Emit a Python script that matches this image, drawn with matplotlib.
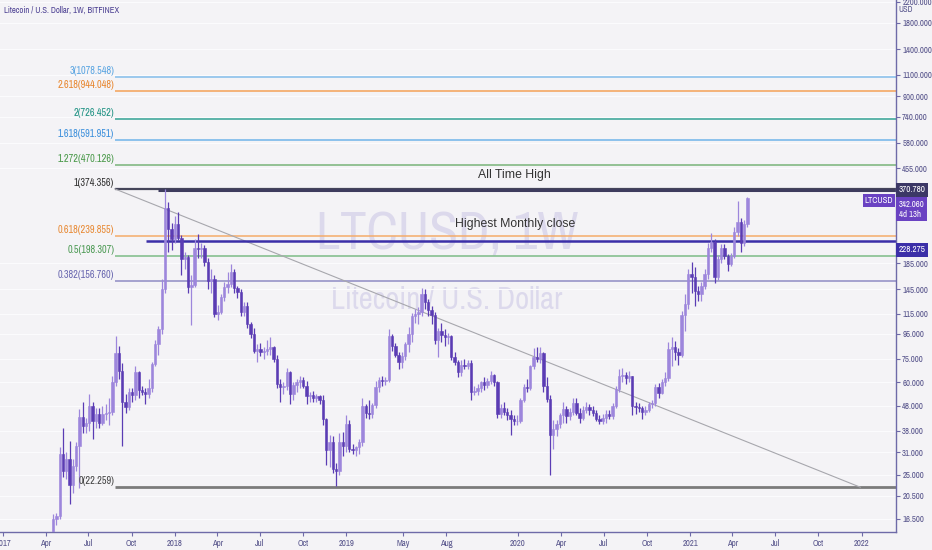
import numpy as np
import pandas as pd
import matplotlib
matplotlib.use("Agg")
import matplotlib.pyplot as plt
import matplotlib.dates as mdates

plt.rcParams['font.family'] = ['Archivo Narrow', 'DejaVu Sans']

# weekly LTCUSD candles (Bitfinex), first week starts 2017-04-17
first_week = "2017-04-17"
first_open = 13.0
highs = [17.2, 17.4, 32.5, 39, 31, 34.5, 29, 34, 46.7, 50, 43, 53.8, 50, 47, 47, 48, 49, 52, 64, 93,
         85, 72, 54, 57, 57, 70, 67, 58, 57, 62, 73, 90, 102, 160, 374, 330, 270, 290, 300, 242,
         205, 200, 165, 233, 245, 225, 220, 195, 175, 165, 125, 138, 155, 170, 183, 175, 150, 145, 128, 128,
         106, 100, 86, 87, 84, 90, 92, 85, 78, 62, 60, 69, 67, 60, 62, 64, 63, 61, 55, 55.5,
         54, 53, 53, 43, 36.5, 36, 28, 37, 37.5, 44, 42, 33.5, 33, 35, 52, 49, 51, 49.5, 61, 63,
         63.5, 63, 99, 95, 87, 80, 80, 88, 101, 116, 120, 122, 147, 145, 132, 124, 117, 100, 105, 99,
         96, 94, 80, 74, 74, 75, 74, 74, 58, 59, 61, 63, 62.5, 67, 65, 61, 49, 50, 47, 46,
         44, 44, 52, 59, 62, 71, 83, 84, 84, 80, 63, 53, 42, 42, 45, 50, 48, 47, 52, 52,
         47, 48, 50, 49, 48, 46, 44, 44.5, 46, 46, 49.5, 58, 68, 69, 66, 67, 64, 50, 49.5, 48,
         48, 50, 51, 59, 59.5, 62, 66, 88, 92, 89, 83, 118, 138, 176, 187, 178, 150, 155, 175, 225,
         247, 232, 200, 222, 222, 203, 204, 261, 335, 285, 280, 346]
lows = [12.5, 15.5, 16.5, 24.5, 24, 19, 21, 26, 22, 37, 37, 38, 35, 39, 39, 40, 42, 40, 44, 58,
        62, 33, 45, 46, 50, 51, 52, 53, 49, 52, 55, 70, 78, 95, 140, 205, 210, 225, 230, 165,
        176, 140, 103, 148, 195, 195, 180, 145, 140, 111, 108, 115, 130, 140, 148, 140, 133, 112, 112, 100,
        91, 79, 73, 77, 75, 78, 78, 73, 57, 50, 54, 56, 49, 51, 55, 57, 57, 49, 50, 50,
        50, 49, 40, 27.5, 27, 25.5, 22.6, 25, 30, 31, 31, 30.5, 30, 30.5, 33, 43, 42.5, 43, 47, 55,
        58, 58.5, 60, 81, 76, 68, 69, 74, 80, 88, 105, 104, 112, 120, 112, 104, 86, 76.5, 88, 85,
        86, 74, 71, 63, 64, 68, 68, 51, 53, 53, 55, 56, 57, 59, 58, 43, 43, 44, 42, 36.5,
        40, 40, 41, 50, 55, 56, 68, 73, 72, 55, 50, 24.9, 32, 36, 39, 41, 41, 42, 44, 44,
        41, 42, 45, 44, 43.5, 41.5, 40.5, 40.5, 41, 42.5, 42.5, 47, 55, 60, 59, 60, 44, 44.5, 45.5, 42.5,
        44, 45.5, 47, 48, 52, 53.5, 58, 61, 70, 74, 71, 76, 98, 120, 140, 123, 129, 130, 145, 160,
        205, 154, 158, 185, 192, 172, 180, 195, 240, 205, 218, 262]
closes = [16.4, 16.9, 30.6, 26, 29, 22.7, 27.3, 33, 43.4, 39.6, 41, 48, 41.5, 44.5, 41, 44.5, 45, 45.5, 60.5, 79,
          67, 50, 47.5, 55, 53, 66, 56, 55, 53.5, 57, 71.4, 86, 99, 145, 313, 255, 232, 268, 236, 192,
          196, 148, 151, 214, 211, 213, 188, 157, 160, 115, 117, 134, 148, 152, 171, 146, 141, 117, 124, 104,
          95, 81, 82, 80, 81, 82, 84, 75, 59, 57.5, 58, 66, 53.5, 58.5, 60, 61.5, 58, 52.5, 53, 52,
          52.5, 51, 42.5, 31.5, 34, 26.5, 26, 34, 33, 40.5, 32, 31.5, 32.5, 34, 48, 45, 44.5, 48.5, 57.5, 61.5,
          61, 61.5, 93, 85, 78, 73, 77, 86, 95, 112, 115, 117, 138, 128, 119, 114, 90, 98, 94, 92,
          93, 76.5, 73, 66, 71, 70, 72, 55, 55.5, 57, 60, 58.5, 61, 64.5, 60, 44.5, 47, 45.5, 44, 42.5,
          41.5, 41.5, 51, 57.5, 57, 70, 76, 75, 79.5, 58, 51.5, 36.5, 38.5, 40.5, 44, 46.5, 43.5, 45.5, 49.5, 45,
          43, 46, 47.5, 46, 45, 42.5, 41.5, 43, 44.5, 43.5, 48, 56.5, 63.5, 64.5, 62.5, 63.5, 48, 47.5, 47, 45.5,
          46, 49, 49.5, 57.5, 54.5, 60, 62.5, 82, 84, 80, 77.5, 114, 126, 168, 163, 142, 138, 150, 168, 214,
          226, 162, 192, 214, 198, 184, 198, 250, 273, 224, 268, 342]

# fibonacci extension drawn on the chart
fib_levels = ["0", "0.382", "0.5", "0.618", "1", "1.272", "1.618", "2", "2.618", "3"]
fib_values = [22.259, 156.760, 198.307, 239.855, 374.356, 470.126, 591.951, 726.452, 944.048, 1078.548]
fib_colors = ['#7b7b7b', '#8f8bc4', '#7dbb86', '#f4ac6a', '#45455a', '#79b47a', '#6fb4ea', '#33a395', '#f4a258', '#83bdeb']
fib_text = ['#444444', '#6a68b0', '#4d9a55', '#e88a35', '#333333', '#4b9a4b', '#3b8fdc', '#1f9283', '#e8862e', '#5aa5e2']
fib_start = "2017-08-26"

ath_value = 370.78
monthly_close = 228.275
last_price = 342.06
trend_dates = ["2017-08-26", "2021-12-29"]
trend_prices = [374.356, 22.259]

ytick_vals = [16.5, 20.5, 25, 31, 38, 48, 60, 75, 95, 115, 145, 185, 455, 580, 740, 900, 1100, 1400, 1800, 2200]
xtick_dates = ["2017-01-01", "2017-04-01", "2017-07-01", "2017-10-01", "2018-01-01", "2018-04-01", "2018-07-01",
               "2018-10-01", "2019-01-01", "2019-05-01", "2019-08-01", "2020-01-01", "2020-04-01", "2020-07-01",
               "2020-10-01", "2021-01-01", "2021-04-01", "2021-07-01", "2021-10-01", "2022-01-01"]
xtick_labels = ["2017", "Apr", "Jul", "Oct", "2018", "Apr", "Jul", "Oct", "2019", "May", "Aug", "2020", "Apr",
                "Jul", "Oct", "2021", "Apr", "Jul", "Oct", "2022"]

dates = pd.date_range(first_week, periods=len(closes), freq="7D")
df = pd.DataFrame({"high": highs, "low": lows, "close": closes}, index=dates)
df["open"] = [first_open] + closes[:-1]

bg = '#f4f3f6'
axis_col = '#6e6aa8'
label_col = '#55528a'
up_col = '#9d86dc'
down_col = '#5b3cb4'

fig = plt.figure(figsize=(9.32, 5.5), dpi=100, facecolor=bg)
ax = fig.add_axes([0, 18 / 550, 896 / 932, 532 / 550], facecolor=bg)
ax.set_yscale('log')

x = mdates.date2num(df.index.to_pydatetime())
up = df["close"] >= df["open"]
for mask, col in [(up, up_col), (~up, down_col)]:
    d = df[mask]
    xx = x[mask.values]
    ax.vlines(xx, d["low"], d["high"], color=col, lw=0.9, zorder=3)
    bottom = np.minimum(d["open"], d["close"])
    height = np.abs(d["close"] - d["open"])
    ax.bar(xx, height, bottom=bottom, width=5.0, color=col, edgecolor=col, lw=0.4, zorder=4)

# fib lines
ref = mdates.date2num(pd.Timestamp("2018-01-01"))
x_left = ref - 372
x_right = ref + 1534
fs = mdates.date2num(pd.Timestamp(fib_start))
for lvl, val, c, tc in zip(fib_levels, fib_values, fib_colors, fib_text):
    lw = 2.0 if lvl == "0" else (1.6 if lvl == "1" else 1.1)
    ax.hlines(val, fs, x_right, color=c, lw=lw, zorder=2)
    ax.text(fs - 1, val * 1.01, f"{lvl}({val:.3f})", color=tc, fontsize=7.4, ha='right', va='bottom', zorder=5)

# trend line
td = mdates.date2num(pd.to_datetime(trend_dates).to_pydatetime())
ax.plot(td, trend_prices, color='#a7a7ad', lw=0.8, zorder=2)

# all time high and highest monthly close
ax.hlines(ath_value, mdates.date2num(pd.Timestamp("2017-11-26")), x_right, color='#3e3c5e', lw=2.2, zorder=2)
ax.hlines(monthly_close, mdates.date2num(pd.Timestamp("2017-10-31")), x_right, color='#3b2fa8', lw=1.8, zorder=2)
note_x = mdates.date2num(pd.Timestamp("2019-12-25"))
ax.text(note_x, 427, "All Time High", fontsize=8.8, color='#333333', family='Liberation Sans',
        ha='center', va='center', zorder=5)
ax.text(note_x, 268, "Highest Monthly close", fontsize=8.8, color='#333333', family='Liberation Sans',
        ha='center', va='center', zorder=5)

# watermark
ax.text(0.499, 0.56, "LTCUSD, 1W", transform=ax.transAxes, fontsize=38, color='#dcd9ec', ha='center',
        va='center', zorder=1)
ax.text(0.499, 0.437, "Litecoin / U.S. Dollar", transform=ax.transAxes, fontsize=22, color='#dcd9ec',
        ha='center', va='center', zorder=1)

ax.set_xlim(x_left, x_right)
ax.set_ylim(14.57, 2234)

ax.yaxis.tick_right()
ax.set_yticks(ytick_vals)
ax.set_yticklabels([f"{v:.3f}" for v in ytick_vals])
ax.yaxis.set_minor_locator(plt.NullLocator())
ax.set_xticks(mdates.date2num(pd.to_datetime(xtick_dates).to_pydatetime()))
ax.set_xticklabels(xtick_labels)
ax.tick_params(axis='both', colors=axis_col, labelcolor=label_col, labelsize=6.3, length=3, width=0.8)
ax.tick_params(axis='y', pad=1.5)
ax.tick_params(axis='x', pad=2)
for s in ['top', 'left']:
    ax.spines[s].set_visible(False)
for s in ['right', 'bottom']:
    ax.spines[s].set_color(axis_col)
    ax.spines[s].set_linewidth(1.0)
ax.grid(axis='y', color='#fbfbfd', lw=0.8, zorder=0)

# price labels on the axis
yt = ax.get_yaxis_transform()
ax.text(1.003, ath_value, "370.780", transform=yt, fontsize=6.5, color='white', ha='left', va='center',
        bbox=dict(boxstyle='square,pad=0.25', fc='#3c3866', ec='none'), zorder=6, clip_on=False)
ax.text(1.003, 338, "342.060\n4d 13h", transform=yt, fontsize=6.3, color='white', ha='left', va='top',
        linespacing=1.15, bbox=dict(boxstyle='square,pad=0.3', fc='#6a42c2', ec='none'), zorder=6,
        clip_on=False)
ax.text(1.003, 210, "228.275", transform=yt, fontsize=6.5, color='white', ha='left', va='center',
        bbox=dict(boxstyle='square,pad=0.25', fc='#3b2fa8', ec='none'), zorder=6, clip_on=False)
ax.text(0.997, 336, "LTCUSD", transform=yt, fontsize=6.3, color='white', ha='right', va='center',
        bbox=dict(boxstyle='square,pad=0.25', fc='#6a42c2', ec='none'), zorder=6, clip_on=False)
ax.text(906 / 896, 1 - 10 / 532, "USD", transform=ax.transAxes, fontsize=6, color=label_col,
        ha='center', va='center')

fig.text(4 / 932, 1 - 10 / 550, "Litecoin / U.S. Dollar, 1W, BITFINEX", fontsize=6.2, color='#4b3f92',
         ha='left', va='center', fontweight='bold')

fig.savefig("out.png", dpi=100, facecolor=bg)
